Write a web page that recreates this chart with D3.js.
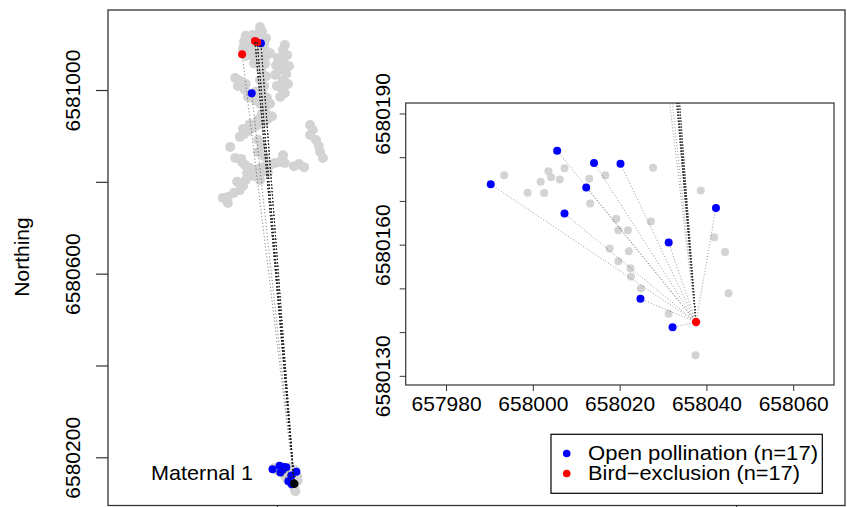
<!DOCTYPE html>
<html>
<head>
<meta charset="utf-8">
<script src="https://cdn.jsdelivr.net/npm/d3@7"></script>
<style>
  html, body { margin: 0; padding: 0; background: #fff; }
  svg { display: block; }
  text { font-family: "Liberation Sans", Arial, Helvetica, sans-serif; fill: #000; }
</style>
</head>
<body>
<svg id="chart" width="847" height="507"></svg>
<script>
// ---------------- DATA ----------------
// Maternal tree (Maternal 1)
const materX = 658037.6;
const materY = 6580142.3;

// Open pollination fathers (blue) and number of seeds sired
const openX = [657990.3, 658005.6, 658014.1, 658020.2, 658012.3, 658007.3, 658042.2, 658031.3, 658024.8, 658032.2, 657965, 657945];
const openY = [6580173.8, 6580181.5, 6580178.7, 6580178.5, 6580173.1, 6580167.1, 6580168.4, 6580160.5, 6580147.6, 6580141.1, 6581102, 6580993];
const openN = [1, 1, 1, 1, 1, 1, 1, 1, 1, 1, 6, 1];

// Bird-exclusion fathers (red) and number of seeds sired
const birdX = [657952, 657957, 657924, 658037.6];
const birdY = [6581107, 6581104, 6581078, 6580142.3];
const birdN = [7, 7, 1, 2];

// Other candidate trees (grey)
const grayX = [
  657963, 657967, 657959, 657932, 657946, 657976, 657928, 657941, 657972, 657926, 657939, 657954, 657974, 657932, 657948, 657967, 657978,
  658017, 658013, 658022, 658015, 658026, 658009, 658020, 658013, 658024, 658009, 658017, 658007, 657998, 657996, 658000,
  657961, 657974, 657965, 657976, 657963, 657972, 657967, 657978, 657963, 657974, 657967, 657985,
  657909, 657919, 657932, 657915, 657930, 657954, 657937, 657952,
  657989, 657980, 657972, 657963, 657954, 657946, 657937, 657928, 657919, 657926, 657941, 657959, 657976,
  657898, 657909, 657924,
  657930, 657941, 657952, 657963, 657974, 657985, 657996, 658007, 658017, 657935, 657948, 657963, 657980, 658013,
  658037, 658048, 658059,
  658072, 658078, 658072, 658085, 658091, 658094, 658100,
  657959, 657967, 657959, 657972, 657963,
  657932, 657913, 657926, 657919, 657906, 657893, 657882, 657893,
  657956, 657985, 657937, 657922, 658002, 657950,
  657993.4, 658003.6, 658007.3, 658001.8, 658004.2, 658006.2, 657998.8, 658002.6, 658013.0, 658016.7, 658027.7, 658013.2, 658038.7,
  658019.2, 658027.2, 658019.7, 658021.9, 658041.8, 658017.7, 658022.1, 658044.3, 658019.7, 658022.5, 658022.6, 658024.9, 658045.1,
  658031.3, 658037.5, 658040
];
const grayY = [
  6581137, 6581128, 6581122, 6581118, 6581120, 6581113, 6581105, 6581105, 6581100, 6581091, 6581087, 6581089, 6581087, 6581074, 6581074, 6581072, 6581076,
  6581098, 6581087, 6581076, 6581061, 6581052, 6581044, 6581035, 6581022, 6581013, 6581004, 6580993, 6580985, 6581054, 6581033, 6581009,
  6581061, 6581057, 6581044, 6581030, 6581022, 6581009, 6580996, 6580983, 6580970, 6580961, 6580948, 6580970,
  6581026, 6581020, 6581013, 6581009, 6581000, 6580996, 6580985, 6580978,
  6580943, 6580937, 6580930, 6580926, 6580922, 6580917, 6580911, 6580904, 6580898, 6580915, 6580926, 6580935, 6580948,
  6580876, 6580852, 6580843,
  6580837, 6580830, 6580826, 6580830, 6580834, 6580837, 6580841, 6580843, 6580841, 6580819, 6580813, 6580817, 6580821, 6580858,
  6580834, 6580839, 6580832,
  6580924, 6580913, 6580902, 6580891, 6580878, 6580865, 6580852,
  6580891, 6580878, 6580865, 6580856, 6580804,
  6580804, 6580800, 6580791, 6580782, 6580776, 6580767, 6580765, 6580754,
  6581098, 6581080, 6581096, 6580850, 6581070, 6581058,
  6580175.9, 6580176.8, 6580177.5, 6580174.4, 6580175.4, 6580174.9, 6580171.9, 6580171.8, 6580175.1, 6580175.9, 6580177.6, 6580169.4, 6580172.4,
  6580165.9, 6580165.3, 6580163.3, 6580163.3, 6580161.7, 6580159.1, 6580158.5, 6580158.3, 6580156.2, 6580154.6, 6580152.7, 6580150.0, 6580148.9,
  6580144.2, 6580134.7, 6580126
];

// Axis ticks
const mainYTicks = [6580200, 6580400, 6580600, 6580800, 6581000];
const mainYLabels = ["6580200", "", "6580600", "", "6581000"];
const mainXTicks = [658000, 659000];
const insetXTicks = [657980, 658000, 658020, 658040, 658060];
const insetYTicks = [6580130, 6580140, 6580150, 6580160, 6580170, 6580180, 6580190];
const insetYLabels = ["6580130", "", "", "6580160", "", "", "6580190"];

// Legend
const legendLabels = ["Open pollination (n=17)", "Bird\u2212exclusion (n=17)"];
const legendColors = ["#0000FF", "#FF0000"];

// ---------------- DRAW ----------------
const svg = d3.select("#chart");
const FONT = 21;
const BLUE = "#0000FF", RED = "#FF0000", GREY = "#D3D3D3";

// Main panel scales
const mx = d3.scaleLinear().domain([657631.9, 659237.2]).range([108, 845]);
const my = d3.scaleLinear().domain([6580095, 6581174.3]).range([505.5, 10]);

const gray = grayX.map((x, i) => ({x, y: grayY[i]}));
const open = openX.map((x, i) => ({x, y: openY[i], n: openN[i]}));
const bird = birdX.map((x, i) => ({x, y: birdY[i], n: birdN[i]}));
const linesData = [];
open.forEach(d => { for (let k = 0; k < d.n; k++) linesData.push(d); });
bird.forEach(d => { for (let k = 0; k < d.n; k++) linesData.push(d); });

svg.append("rect").attr("width", 847).attr("height", 507).attr("fill", "#fff");

const main = svg.append("g");
main.append("defs").append("clipPath").attr("id", "mainclip")
  .append("rect").attr("x", 108).attr("y", 10).attr("width", 737).attr("height", 495.5);
const mg = main.append("g").attr("clip-path", "url(#mainclip)");

mg.selectAll("circle.g").data(gray).join("circle")
  .attr("cx", d => mx(d.x)).attr("cy", d => my(d.y)).attr("r", 5).attr("fill", GREY);
mg.selectAll("circle.b").data(open).join("circle")
  .attr("cx", d => mx(d.x)).attr("cy", d => my(d.y)).attr("r", 4).attr("fill", BLUE);
mg.selectAll("circle.r").data(bird.filter(d => d.x !== materX)).join("circle")
  .attr("cx", d => mx(d.x)).attr("cy", d => my(d.y)).attr("r", 4).attr("fill", RED);
mg.selectAll("line.l").data(linesData).join("line")
  .attr("x1", mx(materX)).attr("y1", my(materY))
  .attr("x2", d => mx(d.x)).attr("y2", d => my(d.y))
  .attr("stroke", "#222").attr("stroke-width", 1).attr("stroke-opacity", 0.55)
  .attr("stroke-dasharray", "1.2 2.2");
mg.append("circle").attr("cx", mx(materX)).attr("cy", my(materY)).attr("r", 4.3).attr("fill", "#000");

main.append("text").attr("x", 253).attr("y", 480).attr("text-anchor", "end")
  .attr("font-size", FONT).attr("textLength", 102).attr("lengthAdjust", "spacingAndGlyphs")
  .text("Maternal 1");

// main axes
const yAxis = d3.axisLeft(my).tickValues(mainYTicks).tickSize(12)
  .tickFormat((d, i) => mainYLabels[i]);
const yg = main.append("g").attr("transform", "translate(108,0)").call(yAxis);
yg.select(".domain").remove();
yg.selectAll(".tick line").attr("stroke", "#333").attr("stroke-width", 1.2);
yg.selectAll(".tick text").attr("transform", "rotate(-90)").attr("x", 0).attr("y", -28)
  .attr("dy", 0).attr("text-anchor", "middle").attr("font-size", FONT)
  .attr("font-family", "Liberation Sans, Arial, sans-serif").attr("fill", "#000");

const xAxis = d3.axisBottom(mx).tickValues(mainXTicks).tickSize(12).tickFormat("");
const xg = main.append("g").attr("transform", "translate(0,505.5)").call(xAxis);
xg.select(".domain").remove();
xg.selectAll(".tick line").attr("stroke", "#333").attr("stroke-width", 1.2);

main.append("rect").attr("x", 108).attr("y", 10).attr("width", 737).attr("height", 495.5)
  .attr("fill", "none").attr("stroke", "#333").attr("stroke-width", 1.3);

main.append("text").attr("transform", "translate(28.5,257) rotate(-90)")
  .attr("text-anchor", "middle").attr("font-size", FONT).text("Northing");

// Inset panel
const ix = d3.scaleLinear().domain([657970.7, 658069.4]).range([405.7, 834]);
const iy = d3.scaleLinear().domain([6580127.9, 6580192.4]).range([385, 103]);

const inset = svg.append("g");
inset.append("rect").attr("x", 405.7).attr("y", 103).attr("width", 428.3).attr("height", 282)
  .attr("fill", "#fff");
inset.append("defs").append("clipPath").attr("id", "insclip")
  .append("rect").attr("x", 405.7).attr("y", 103).attr("width", 428.3).attr("height", 282);
const ig = inset.append("g").attr("clip-path", "url(#insclip)");

ig.selectAll("circle.g").data(gray).join("circle")
  .attr("cx", d => ix(d.x)).attr("cy", d => iy(d.y)).attr("r", 4).attr("fill", GREY);
ig.selectAll("line.l").data(linesData).join("line")
  .attr("x1", ix(materX)).attr("y1", iy(materY))
  .attr("x2", d => ix(d.x)).attr("y2", d => iy(d.y))
  .attr("stroke", "#333").attr("stroke-width", 1).attr("stroke-opacity", 0.5)
  .attr("stroke-dasharray", "1 2");
ig.selectAll("circle.b").data(open).join("circle")
  .attr("cx", d => ix(d.x)).attr("cy", d => iy(d.y)).attr("r", 4).attr("fill", BLUE);
ig.selectAll("circle.r").data(bird).join("circle")
  .attr("cx", d => ix(d.x)).attr("cy", d => iy(d.y)).attr("r", 4.2).attr("fill", RED);

const iyAxis = d3.axisLeft(iy).tickValues(insetYTicks).tickSize(6)
  .tickFormat((d, i) => insetYLabels[i]);
const iyg = inset.append("g").attr("transform", "translate(405.7,0)").call(iyAxis);
iyg.select(".domain").remove();
iyg.selectAll(".tick line").attr("stroke", "#333");
iyg.selectAll(".tick text").attr("transform", "rotate(-90)").attr("x", 0).attr("y", -16)
  .attr("dy", 0).attr("text-anchor", "middle").attr("font-size", FONT)
  .attr("font-family", "Liberation Sans, Arial, sans-serif").attr("fill", "#000");

const ixAxis = d3.axisBottom(ix).tickValues(insetXTicks).tickSize(6)
  .tickFormat(d => String(d));
const ixg = inset.append("g").attr("transform", "translate(0,385)").call(ixAxis);
ixg.select(".domain").remove();
ixg.selectAll(".tick line").attr("stroke", "#333");
ixg.selectAll(".tick text").attr("y", 26).attr("dy", 0).attr("font-size", FONT)
  .attr("font-family", "Liberation Sans, Arial, sans-serif").attr("fill", "#000");

inset.append("rect").attr("x", 405.7).attr("y", 103).attr("width", 428.3).attr("height", 282)
  .attr("fill", "none").attr("stroke", "#333").attr("stroke-width", 1.2);

// Legend
const legendWidths = [230, 212];
const lg = svg.append("g");
lg.append("rect").attr("x", 551).attr("y", 434.3).attr("width", 271.3).attr("height", 59)
  .attr("fill", "#fff").attr("stroke", "#000").attr("stroke-width", 1.2);
legendLabels.forEach((t, i) => {
  lg.append("circle").attr("cx", 566.7).attr("cy", 453.5 + i * 20).attr("r", 3.8).attr("fill", legendColors[i]);
  lg.append("text").attr("x", 588).attr("y", 460 + i * 20).attr("font-size", 19.5)
    .attr("textLength", legendWidths[i]).attr("lengthAdjust", "spacingAndGlyphs").text(t);
});
</script>
</body>
</html>
